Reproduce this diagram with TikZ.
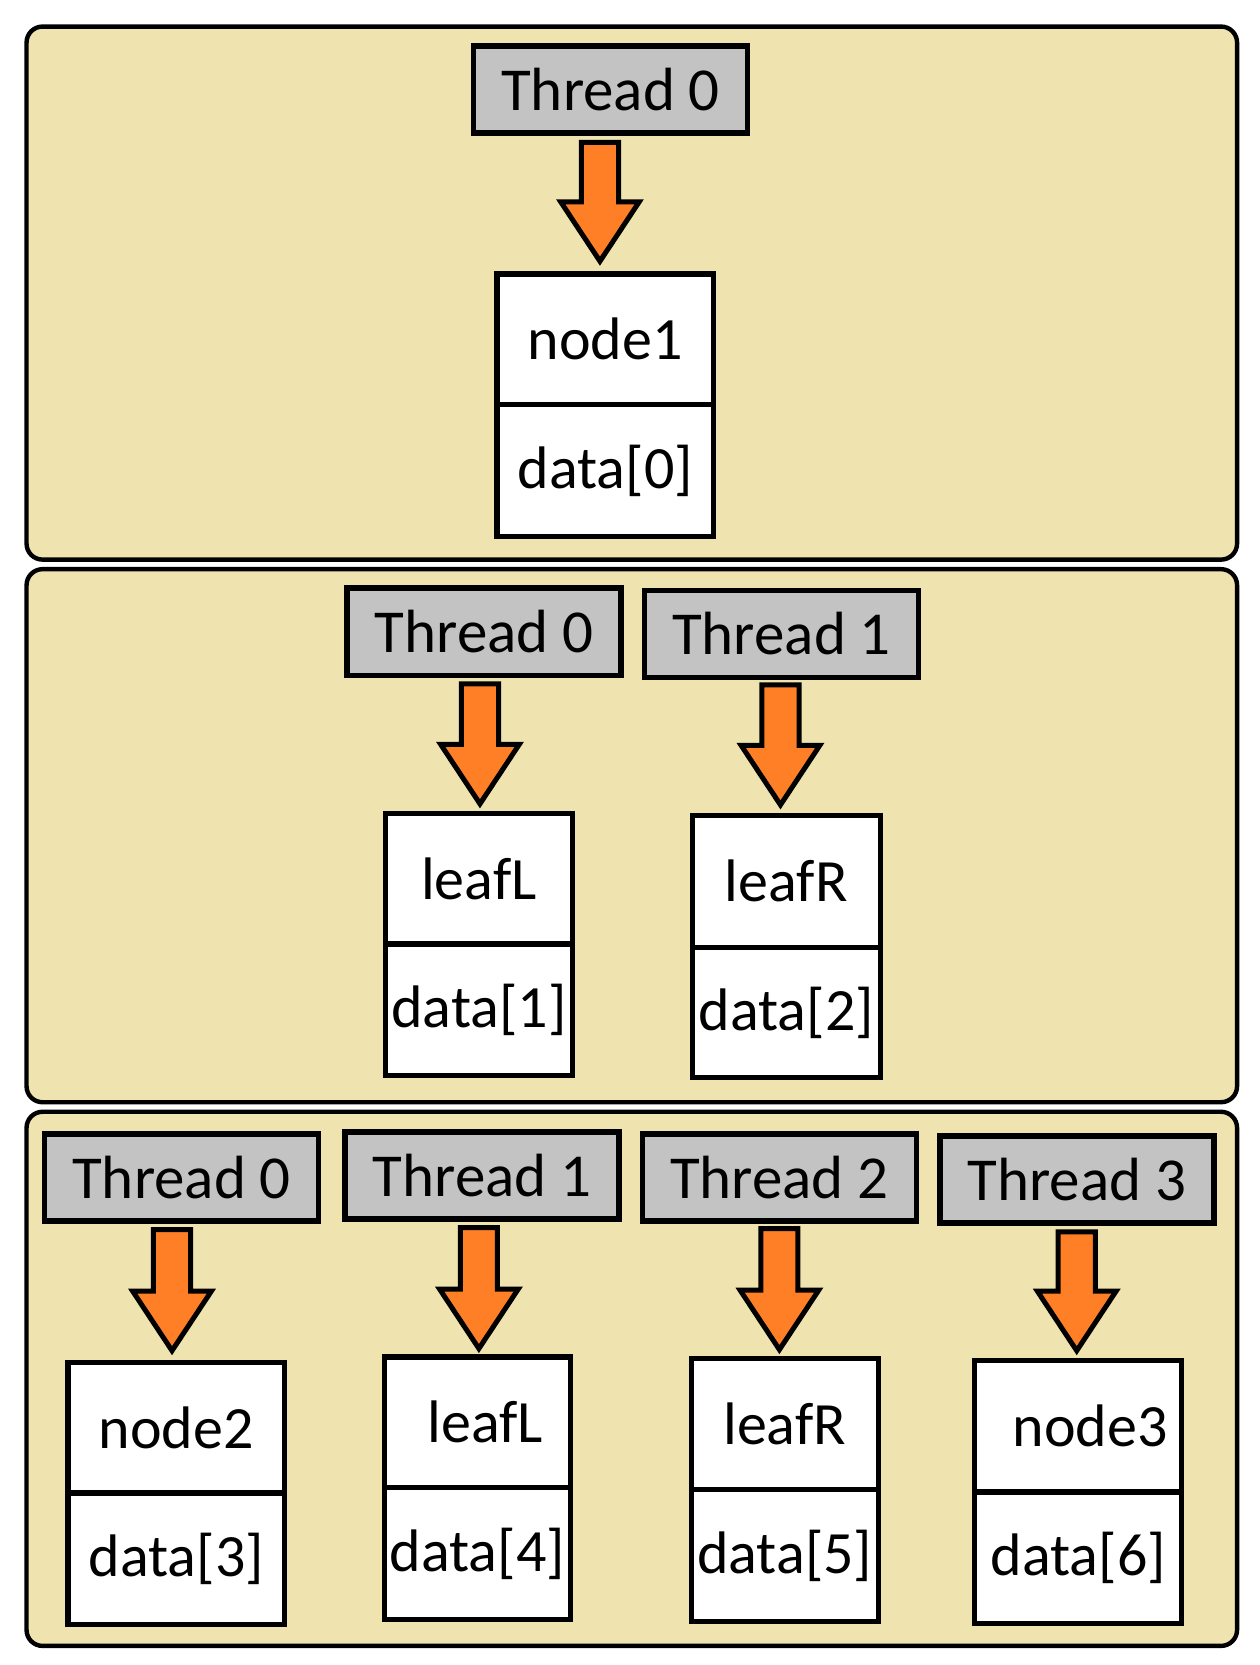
\documentclass[tikz,border=0pt]{standalone}
\usepackage{fontspec}
\setmainfont{Carlito}
\usetikzlibrary{calc}
\definecolor{panelfill}{RGB}{239,228,176}
\definecolor{threadgray}{RGB}{195,195,195}
\definecolor{arroworange}{RGB}{255,127,39}
\newcommand\U{0.5308pt}
\tikzset{
  panel/.style={draw=black, fill=panelfill, line width=2.2pt, rounded corners=8pt},
  tbox/.style={draw=black, fill=threadgray, line width=2.8pt, inner sep=0pt, outer sep=0pt,
    minimum width={258*\U}, minimum height={82*\U}, font=\fontsize{30.5}{36}\selectfont},
  cell/.style 2 args={draw=black, fill=white, line width=2.6pt, inner sep=0pt, outer sep=0pt,
    minimum width={#1*\U}, minimum height={#2*\U}, font=\fontsize{30}{36}\selectfont},
  blockarr/.style={draw=black, fill=arroworange, line width=2.5pt, line join=miter},
}
% block arrow between two named coordinates: start (top of shaft) and tip
\newcommand\blockarrow[2]{%
  \draw[blockarr] ($(#1)+(-17.5,0)$) -- ($(#1)+(17.5,0)$) -- ($(#2)+(17.5,-56)$)
    -- ($(#2)+(37,-56)$) -- (#2) -- ($(#2)+(-37,-56)$) -- ($(#2)+(-17.5,-56)$) -- cycle;}
\begin{document}
\begin{tikzpicture}[x=0.5308pt, y=-0.5308pt]
\useasboundingbox[fill=white] (0,0) rectangle (1186,1568);
% panels
\draw[panel] (25,25) rectangle (1165,527);
\draw[panel] (25,536) rectangle (1165,1038);
\draw[panel] (25,1047) rectangle (1165,1550);

% ---------- panel 1 ----------
\node[tbox] (p1t0) at (575,84.5) {Thread 0};
\node[cell={204}{123}] (p1n) at (570,319.5) {node1};
\node[cell={204}{124}] (p1d) at (570,443) {data[0]};
\coordinate (a1s) at (565,134);
\coordinate (a1e) at (565,246);
\blockarrow{a1s}{a1e}

% ---------- panel 2 ----------
\node[tbox] (p2t0) at (456,595) {Thread 0};
\node[tbox] (p2t1) at (736,597) {Thread 1};
\node[cell={176}{123}] (p2l) at (451,827.5) {leafL};
\node[cell={176}{124}] (p2ld) at (451,951) {data[1]};
\node[cell={177}{124}] (p2r) at (740.5,830) {leafR};
\node[cell={177}{123}] (p2rd) at (740.5,953.5) {data[2]};
\coordinate (a2s) at (452,644);
\coordinate (a2e) at (452,757);
\blockarrow{a2s}{a2e}
\coordinate (a3s) at (735,645);
\coordinate (a3e) at (735,758);
\blockarrow{a3s}{a3e}

% ---------- panel 3 ----------
\node[tbox] (p3t0) at (171,1109) {Thread 0};
\node[tbox] (p3t1) at (454,1107) {Thread 1};
\node[tbox] (p3t2) at (734,1109) {Thread 2};
\node[tbox] (p3t3) at (1014,1111) {Thread 3};
\node[cell={204}{123}] (p3a) at (166,1344.5) {node2};
\node[cell={204}{124}] (p3ad) at (166,1468) {data[3]};
\node[cell={175}{123}] (p3b) at (449.5,1339.5) {\hspace*{8pt}leafL};
\node[cell={175}{124}] (p3bd) at (449.5,1463) {data[4]};
\node[cell={176}{124}] (p3c) at (739,1341) {leafR};
\node[cell={176}{124}] (p3cd) at (739,1465) {data[5]};
\node[cell={195}{124}] (p3d) at (1015.5,1343) {\hspace*{12pt}node3};
\node[cell={195}{124}] (p3dd) at (1015.5,1467) {data[6]};
\coordinate (a4s) at (162,1158);
\coordinate (a4e) at (162,1272);
\blockarrow{a4s}{a4e}
\coordinate (a5s) at (451,1156);
\coordinate (a5e) at (451,1270);
\blockarrow{a5s}{a5e}
\coordinate (a6s) at (734,1157);
\coordinate (a6e) at (734,1271);
\blockarrow{a6s}{a6e}
\coordinate (a7s) at (1014,1160);
\coordinate (a7e) at (1014,1272);
\blockarrow{a7s}{a7e}
\end{tikzpicture}
\end{document}
